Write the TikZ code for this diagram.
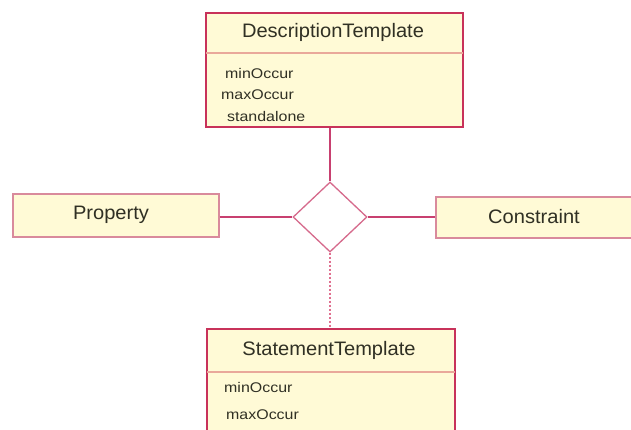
\documentclass[tikz,border=0pt]{standalone}
\usepackage{fontspec}
\usepackage{graphicx}
\setmainfont{Liberation Sans}
\usetikzlibrary{shapes.geometric}
\definecolor{boxfill}{RGB}{255,250,214}
\definecolor{classborder}{RGB}{200,50,90}
\definecolor{lightborder}{RGB}{217,138,156}
\definecolor{sepcol}{RGB}{233,168,154}
\definecolor{diacol}{RGB}{214,106,140}
\definecolor{linkcol}{RGB}{200,64,112}
\definecolor{dotcol}{RGB}{224,112,144}
\definecolor{txt}{RGB}{48,48,36}
\newcommand{\attrtext}[1]{\scalebox{1.14}[1]{#1}}
\newcommand{\bigtext}[1]{\scalebox{1.03}[1]{#1}}
\tikzset{
  classbox/.style={draw=classborder, line width=1.6pt, fill=boxfill, rectangle, inner sep=0pt},
  plainbox/.style={draw=lightborder, line width=1.3pt, fill=boxfill, rectangle, inner sep=0pt},
  sepline/.style={draw=sepcol, line width=1.2pt},
  titletext/.style={text=txt, font=\fontsize{19.5}{22}\selectfont, inner sep=0pt},
  attr/.style={text=txt, font=\fontsize{14}{16}\selectfont, inner sep=0pt, anchor=west},
  relbox/.style={diamond, draw=diacol, line width=1.3pt, fill=white, inner sep=0pt, minimum width=74pt, minimum height=70pt},
  link/.style={draw=linkcol, line width=1.3pt},
  dotlink/.style={draw=dotcol, line width=1.3pt, dash pattern=on 2pt off 2pt}
}
\begin{document}
\begin{tikzpicture}[x=1pt,y=-1pt]
\useasboundingbox (0,0) rectangle (631,430);
\clip (0,0) rectangle (631,430);
\fill[white] (0,0) rectangle (631,430);
% DescriptionTemplate
\node[classbox, minimum width=257pt, minimum height=114pt] (desc) at (334.5,70) {};
\draw[sepline] ([xshift=1pt]desc.west |- 0,53) -- ([xshift=-1pt]desc.east |- 0,53);
\node[titletext] (desctitle) at (333,32) {\bigtext{DescriptionTemplate}};
\node[attr] (dmin) at (225,73) {\attrtext{minOccur}};
\node[attr] (dmax) at (221,95) {\attrtext{maxOccur}};
\node[attr] (dstand) at (227,116) {\attrtext{standalone}};
% StatementTemplate
\node[classbox, minimum width=248pt, minimum height=131pt] (stmt) at (331,394.5) {};
\draw[sepline] ([xshift=1pt]stmt.west |- 0,372) -- ([xshift=-1pt]stmt.east |- 0,372);
\node[titletext] (stmttitle) at (329,350) {\bigtext{StatementTemplate}};
\node[attr] (smin) at (224,387) {\attrtext{minOccur}};
\node[attr] (smax) at (226,415) {\attrtext{maxOccur}};
% Property and Constraint
\node[plainbox, minimum width=206pt, minimum height=43pt] (prop) at (116,215.5) {};
\node[titletext] (proptext) at (111,215) {\bigtext{Property}};
\node[plainbox, minimum width=214pt, minimum height=41pt] (cons) at (543,217.5) {};
\node[titletext] (constext) at (534,217) {\bigtext{Constraint}};
% Relationship diamond
\node[relbox] (dia) at (330,217) {};
% Connectors
\draw[link] (dia.north |- desc.south) -- (dia.north);
\draw[link] (prop.east |- dia.west) -- (dia.west);
\draw[link] (dia.east) -- (cons.west |- dia.east);
\draw[dotlink] (dia.south) -- (dia.south |- stmt.north);
\end{tikzpicture}
\end{document}
